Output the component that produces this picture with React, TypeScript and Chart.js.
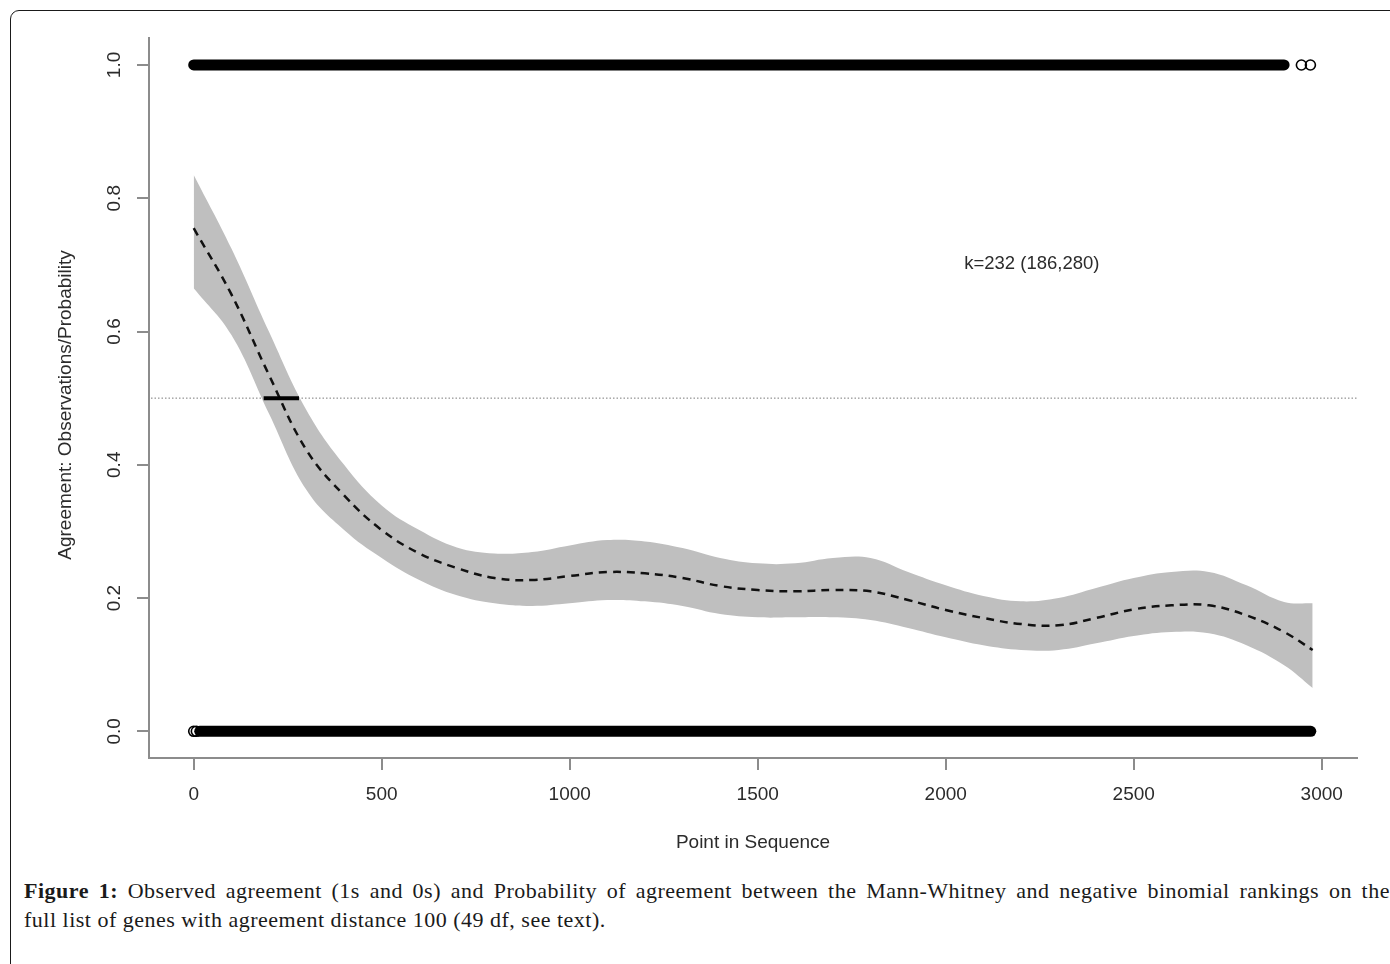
import React, { useEffect, useRef } from 'react';
import { Chart, registerables } from 'chart.js';

Chart.register(...registerables);

// ---- data ----
const seqX = [0, 100, 200, 300, 400, 500, 600, 700, 800, 900, 1000, 1100, 1200, 1300, 1400, 1500, 1600, 1700, 1800, 1900, 2000, 2100, 2200, 2300, 2400, 2500, 2600, 2700, 2800, 2900, 2976];
const meanProb = [0.755, 0.656, 0.535, 0.422, 0.354, 0.302, 0.267, 0.245, 0.23, 0.227, 0.233, 0.239, 0.237, 0.23, 0.218, 0.212, 0.21, 0.212, 0.21, 0.197, 0.182, 0.17, 0.161, 0.159, 0.17, 0.183, 0.189, 0.189, 0.174, 0.149, 0.122];
const upperCI = [0.835, 0.725, 0.6, 0.482, 0.4, 0.339, 0.302, 0.276, 0.267, 0.269, 0.279, 0.287, 0.285, 0.275, 0.26, 0.252, 0.252, 0.26, 0.26, 0.239, 0.219, 0.203, 0.195, 0.2, 0.215, 0.23, 0.239, 0.239, 0.219, 0.194, 0.192];
const lowerCI = [0.665, 0.595, 0.477, 0.362, 0.302, 0.26, 0.227, 0.204, 0.192, 0.188, 0.192, 0.197, 0.195, 0.188, 0.176, 0.171, 0.171, 0.171, 0.167, 0.155, 0.141, 0.129, 0.122, 0.122, 0.132, 0.143, 0.149, 0.147, 0.129, 0.099, 0.065];

// observed agreement (1s) and disagreement (0s): dense runs of points plus isolated points
const onesRuns = [[0, 2900]];
const onesSingles = [2946, 2970];
const zerosRuns = [[16, 2971]];
const zerosSingles = [0, 7];

const kLow = 186;
const kHigh = 280;
const refLevel = 0.5;
const annotationText = 'k=232 (186,280)';
const annotationX = 2229;
const annotationY = 0.701;

const xTickValues = [0, 500, 1000, 1500, 2000, 2500, 3000];
const yTickValues = [0, 0.2, 0.4, 0.6, 0.8, 1.0];
const yTickLabels = ['0.0', '0.2', '0.4', '0.6', '0.8', '1.0'];

const xTitle = 'Point in Sequence';
const yTitle = 'Agreement: Observations/Probability';

const FONT = '"Liberation Sans", Arial, sans-serif';
const TEXT = '#2b2b2b';
const AXIS = '#8c8c8c';

const overlayPlugin = {
  id: 'overlay',
  beforeDatasetsDraw(chart: any) {
    const { ctx, chartArea, scales } = chart;
    const py = scales.y.getPixelForValue(refLevel);
    ctx.save();
    ctx.strokeStyle = '#7a7a7a';
    ctx.lineWidth = 1;
    ctx.setLineDash([1.5, 2]);
    ctx.beginPath();
    ctx.moveTo(chartArea.left + 2, py);
    ctx.lineTo(chartArea.right, py);
    ctx.stroke();
    ctx.restore();
  },
  afterDraw(chart: any) {
    const { ctx, chartArea, scales } = chart;
    const y = scales.y;
    const x = scales.x;
    ctx.save();
    ctx.fillStyle = TEXT;
    ctx.font = `19px ${FONT}`;
    ctx.textAlign = 'center';
    ctx.textBaseline = 'middle';
    yTickValues.forEach((v, i) => {
      const py = y.getPixelForValue(v);
      ctx.save();
      ctx.translate(chartArea.left - 34, py);
      ctx.rotate(-Math.PI / 2);
      ctx.fillText(yTickLabels[i], 0, 0);
      ctx.restore();
    });
    ctx.save();
    ctx.translate(chartArea.left - 83, (chartArea.top + chartArea.bottom) / 2 + 7);
    ctx.rotate(-Math.PI / 2);
    ctx.fillText(yTitle, 0, 0);
    ctx.restore();
    ctx.font = `18.5px ${FONT}`;
    ctx.fillText(annotationText, x.getPixelForValue(annotationX), y.getPixelForValue(annotationY));
    ctx.restore();
  },
};

export default function App() {
  const canvasRef = useRef<HTMLCanvasElement | null>(null);

  useEffect(() => {
    if (!canvasRef.current) return;
    const runDatasets = (runs: number[][], level: number) =>
      runs.map((r) => ({
        type: 'line' as const,
        data: [{ x: r[0], y: level }, { x: r[1], y: level }],
        borderColor: '#000',
        borderWidth: 11,
        borderCapStyle: 'round' as const,
        pointRadius: 0,
        fill: false,
      }));
    const singleDataset = (xs: number[], level: number) => ({
      type: 'line' as const,
      data: xs.map((v) => ({ x: v, y: level })),
      showLine: false,
      pointRadius: 5,
      pointBorderWidth: 1.6,
      pointBorderColor: '#000',
      pointBackgroundColor: 'rgba(0,0,0,0)',
      fill: false,
    });

    const chart = new Chart(canvasRef.current, {
      type: 'line',
      data: {
        datasets: [
          ...runDatasets(onesRuns, 1),
          singleDataset(onesSingles, 1),
          ...runDatasets(zerosRuns, 0),
          singleDataset(zerosSingles, 0),
          {
            data: [{ x: kLow, y: refLevel }, { x: kHigh, y: refLevel }],
            borderColor: '#000',
            borderWidth: 4,
            pointRadius: 0,
            fill: false,
          },
          {
            data: seqX.map((v, i) => ({ x: v, y: meanProb[i] })),
            borderColor: '#111',
            borderWidth: 2.5,
            borderDash: [8, 6],
            pointRadius: 0,
            tension: 0.4,
            fill: false,
          },
          {
            data: seqX.map((v, i) => ({ x: v, y: upperCI[i] })),
            borderWidth: 0,
            borderColor: 'rgba(0,0,0,0)',
            pointRadius: 0,
            tension: 0.4,
            fill: false,
          },
          {
            data: seqX.map((v, i) => ({ x: v, y: lowerCI[i] })),
            borderWidth: 0,
            borderColor: 'rgba(0,0,0,0)',
            backgroundColor: '#bfbfbf',
            pointRadius: 0,
            tension: 0.4,
            fill: '-1',
          },
        ],
      },
      options: {
        animation: false,
        responsive: false,
        devicePixelRatio: 1,
        layout: { padding: { left: 40, right: 33, top: 38, bottom: 12 } },
        plugins: { legend: { display: false }, tooltip: { enabled: false } },
        scales: {
          x: {
            type: 'linear',
            min: -118.9,
            max: 3093.9,
            afterBuildTicks: (s: any) => {
              s.ticks = xTickValues.map((v) => ({ value: v }));
            },
            afterFit: (s: any) => {
              s.height = 100;
            },
            ticks: {
              callback: (v: any) => String(v),
              font: { family: FONT, size: 19 },
              color: TEXT,
              padding: 13,
              maxRotation: 0,
              autoSkip: false,
            },
            grid: {
              drawOnChartArea: false,
              drawTicks: true,
              tickLength: 12,
              tickColor: AXIS,
              tickWidth: 2,
              color: AXIS,
              lineWidth: 2,
            },
            border: { display: true, color: AXIS, width: 2 },
            title: {
              display: true,
              text: xTitle,
              font: { family: FONT, size: 19 },
              color: TEXT,
              padding: { top: 0, bottom: 4 },
            },
          },
          y: {
            type: 'linear',
            min: -0.0401,
            max: 1.0405,
            afterBuildTicks: (s: any) => {
              s.ticks = yTickValues.map((v) => ({ value: v }));
            },
            afterFit: (s: any) => {
              s.width = 109;
            },
            ticks: {
              color: 'rgba(0,0,0,0)',
              font: { family: FONT, size: 19 },
              autoSkip: false,
            },
            grid: {
              drawOnChartArea: false,
              drawTicks: true,
              tickLength: 12,
              tickColor: AXIS,
              tickWidth: 2,
              color: AXIS,
              lineWidth: 2,
            },
            border: { display: true, color: AXIS, width: 2 },
          },
        },
      },
      plugins: [overlayPlugin],
    });
    return () => chart.destroy();
  }, []);

  return (
    <div
      style={{
        position: 'fixed',
        left: 0,
        top: 0,
        width: 1390,
        height: 964,
        overflow: 'hidden',
        background: '#fff',
      }}
    >
      <div
        style={{
          position: 'absolute',
          left: 10,
          top: 10,
          width: 1420,
          height: 1000,
          border: '1.5px solid #1a1a1a',
          borderRadius: 9,
          boxSizing: 'border-box',
        }}
      />
      <canvas
        ref={canvasRef}
        width={1390}
        height={870}
        style={{ position: 'absolute', left: 0, top: 0, width: 1390, height: 870 }}
      />
      <div
        style={{
          position: 'absolute',
          left: 24,
          top: 876,
          width: 1366,
          fontFamily: '"Liberation Serif", "Times New Roman", serif',
          fontSize: 22,
          letterSpacing: '0.5px',
          lineHeight: '29px',
          color: '#1a1a1a',
        }}
      >
        <div style={{ textAlign: 'justify', textAlignLast: 'justify' as any, whiteSpace: 'nowrap' }}>
          <b>Figure 1:</b> Observed agreement (1s and 0s) and Probability of agreement between the Mann-Whitney and negative binomial rankings on the
        </div>
        <div>full list of genes with agreement distance 100 (49 df, see text).</div>
      </div>
    </div>
  );
}
